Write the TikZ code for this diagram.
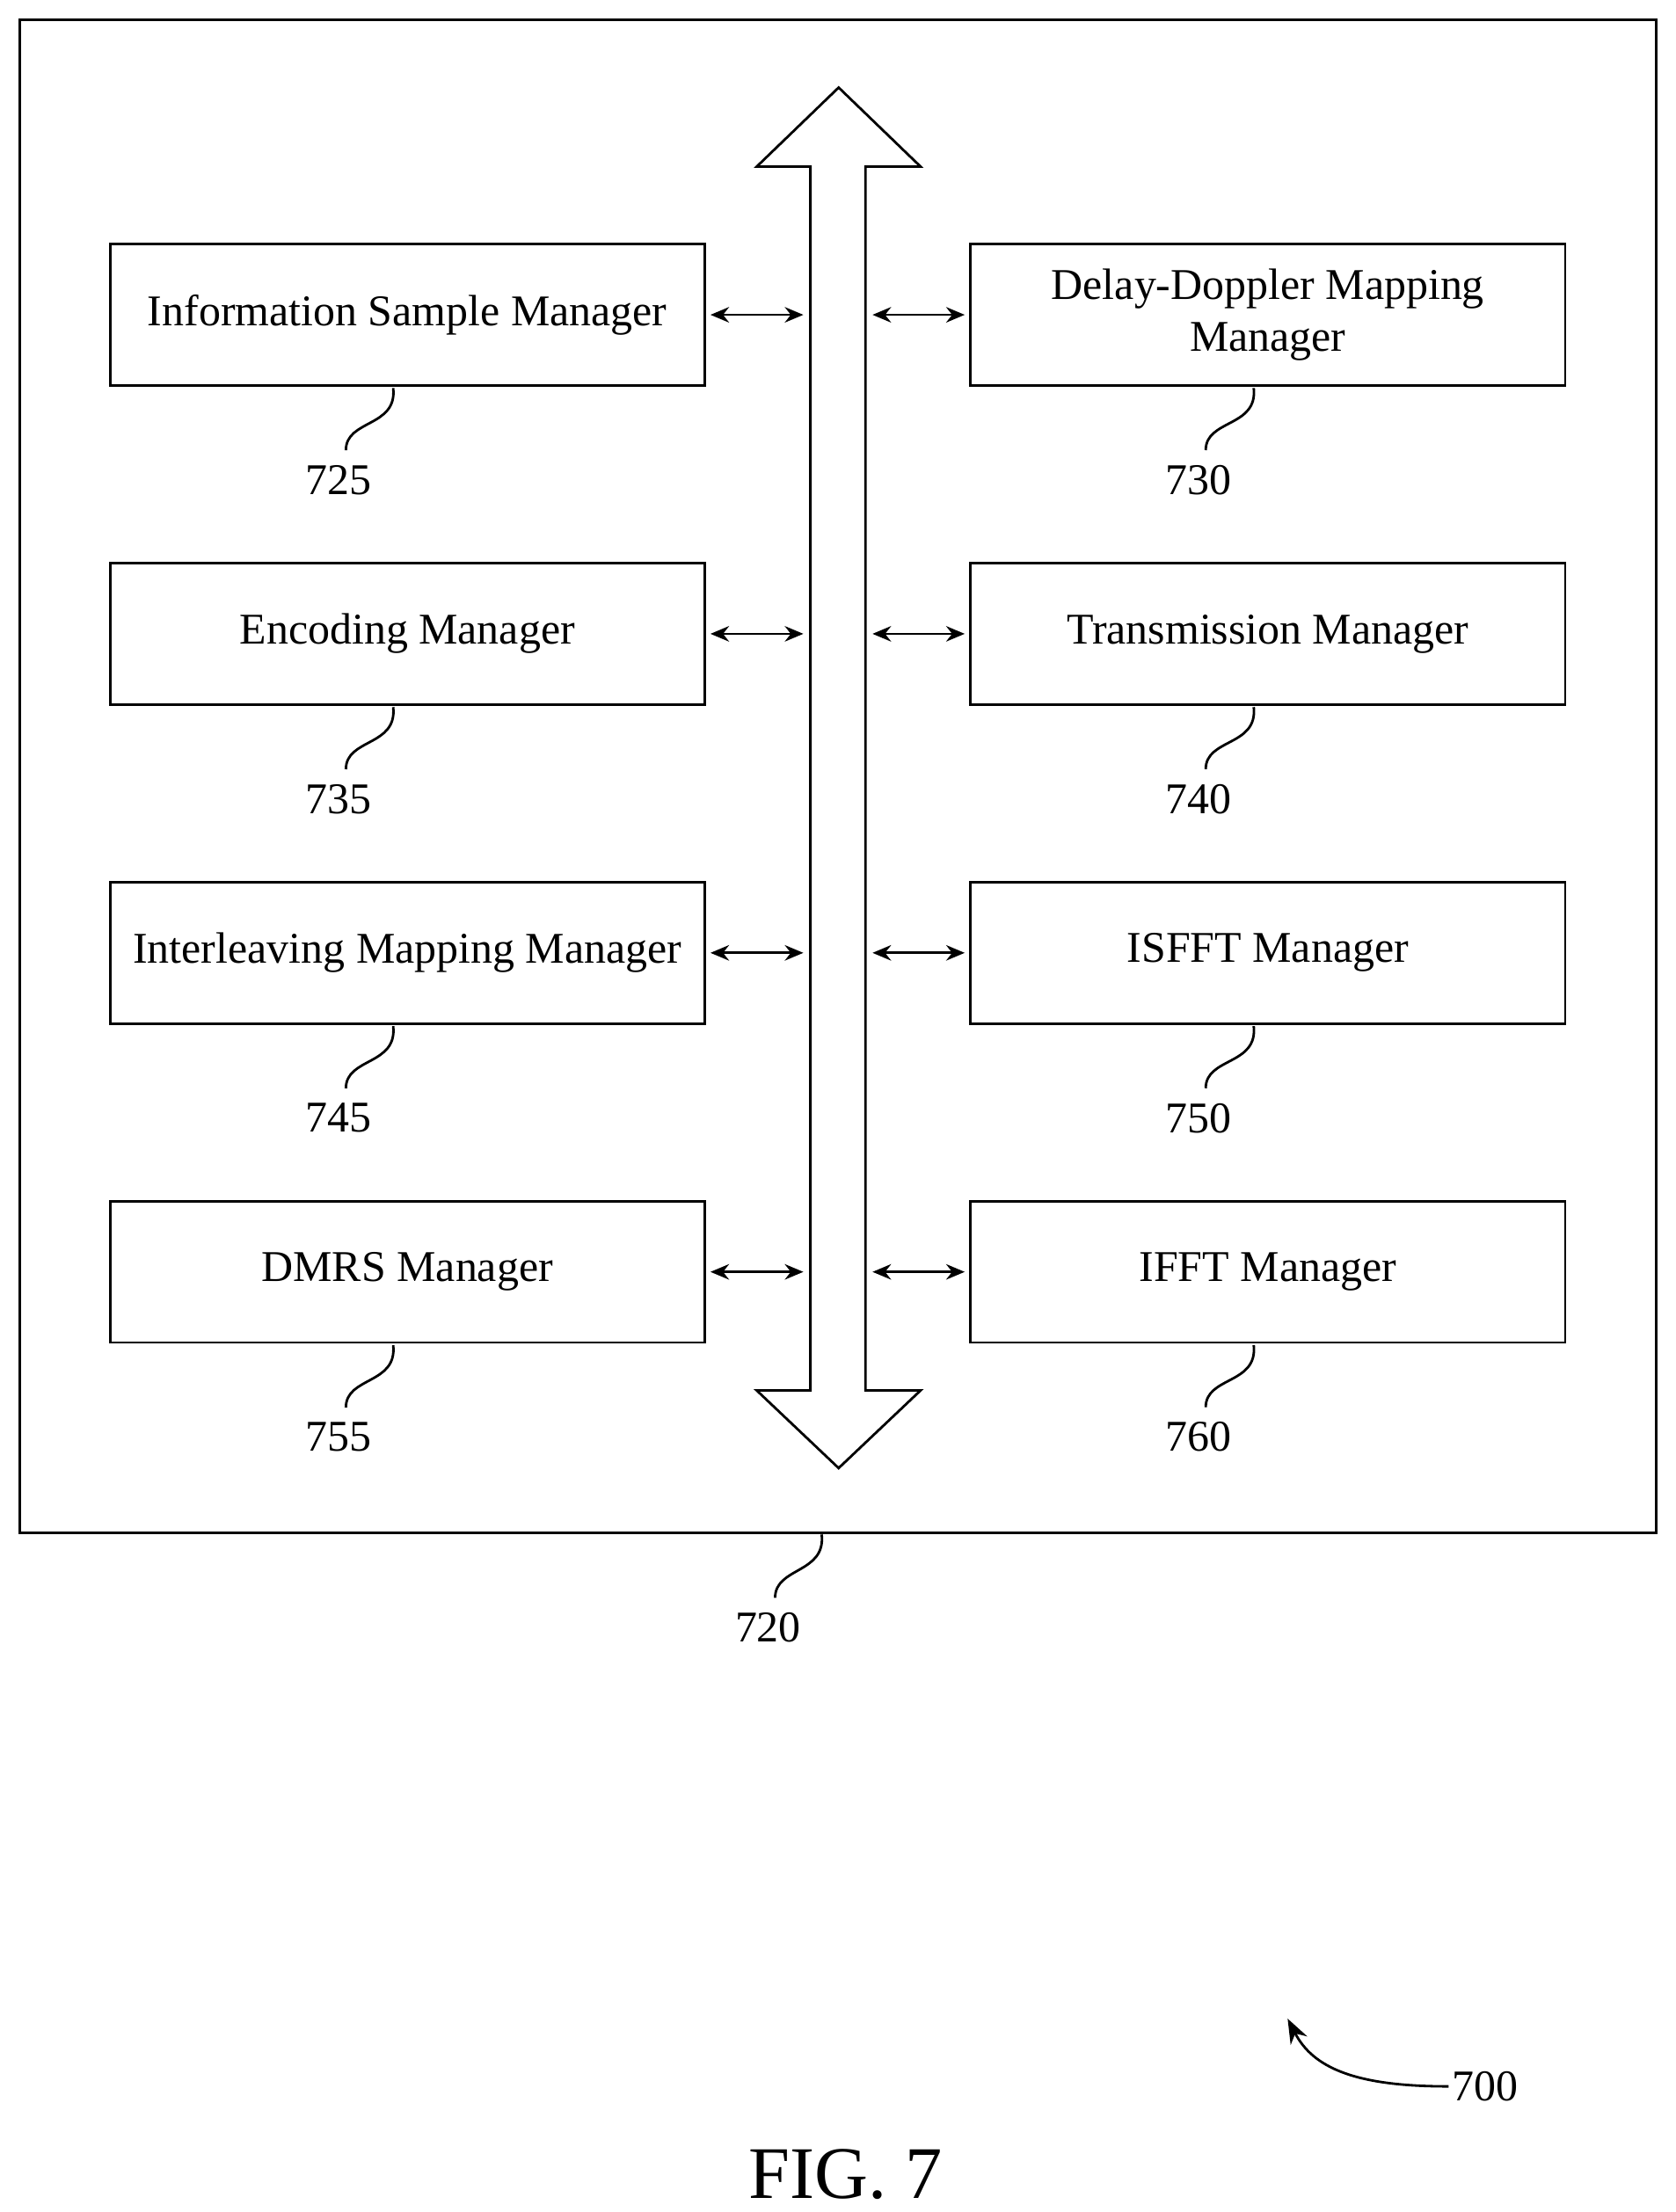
\documentclass[tikz,border=0pt]{standalone}
\usepackage{fontspec}
\setmainfont{Liberation Serif}
\usetikzlibrary{arrows.meta,calc}
\tikzset{
  mgr/.style={draw, thick, minimum width=6.76cm, minimum height=1.606cm, inner sep=0pt, align=center, font=\fontsize{14.2}{17}\selectfont},
  ref/.style={font=\fontsize{14.2}{17}\selectfont, inner sep=1pt},
  link/.style={{Stealth[length=6pt,width=5pt]}-{Stealth[length=6pt,width=5pt]}, thick},
  lead/.style={thick}
}
\begin{document}
\begin{tikzpicture}[x=0.016057cm, y=-0.016057cm]
\useasboundingbox (0,0) rectangle (1187,1567);
% outer device box
\draw[thick] (14,14) rectangle (1173,1086);

% bus arrow
\draw[thick] (594,62) -- (652,118) -- (613,118) -- (613,985) -- (652,985) -- (594,1040)
  -- (536,985) -- (574,985) -- (574,118) -- (536,118) -- cycle;

% left column
\node[mgr] (ism) at (288.5,223) {Information Sample Manager};
\node[mgr] (enc) at (288.5,449) {Encoding Manager};
\node[mgr] (ilm) at (288.5,675) {Interleaving Mapping Manager};
\node[mgr] (dmrs) at (288.5,901) {DMRS Manager};
% right column
\node[mgr] (ddm) at (898,223) {Delay-Doppler Mapping\\Manager};
\node[mgr] (txm) at (898,449) {Transmission Manager};
\node[mgr] (isfft) at (898,675) {ISFFT Manager};
\node[mgr] (ifft) at (898,901) {IFFT Manager};

% bus connections
\foreach \l/\r in {ism/ddm, enc/txm, ilm/isfft, dmrs/ifft} {
  \coordinate (\l bus) at (569,0 |- \l.east);
  \coordinate (\r bus) at (618,0 |- \r.west);
  \draw[link] ([xshift=1.5pt]\l.east) -- (\l bus);
  \draw[link] (\r bus) -- ([xshift=-1.5pt]\r.west);
}

% reference numerals
\node[ref] (n725) at (240,340) {725};
\node[ref] (n735) at (240,566) {735};
\node[ref] (n745) at (240,792) {745};
\node[ref] (n755) at (240,1018) {755};
\node[ref] (n730) at (849,340) {730};
\node[ref] (n740) at (849,566) {740};
\node[ref] (n750) at (849,792) {750};
\node[ref] (n760) at (849,1018) {760};
\foreach \b/\n in {ism/n725, enc/n735, ilm/n745, dmrs/n755, ddm/n730, txm/n740, isfft/n750, ifft/n760}
  \draw[lead] ($(\b.south)+(-10,1)$) .. controls +(3,28) and +(0,-22) .. ($(\n.north)+(5,-8)$);

\node[ref] (n720) at (544,1153) {720};
\draw[lead] (582,1087) .. controls +(3,28) and +(0,-22) .. ($(n720.north)+(5,-8)$);

% figure number
\node[ref] (n700) at (1052,1478) {700};
\coordinate (tip700) at (912,1430);
\draw[lead, -{Stealth[length=8pt,width=6pt]}] (n700.west) .. controls (960,1478) and (930,1465) .. (tip700);

\node[font=\fontsize{24}{28}\selectfont] (fig) at (599,1540) {FIG. 7};
\end{tikzpicture}
\end{document}
